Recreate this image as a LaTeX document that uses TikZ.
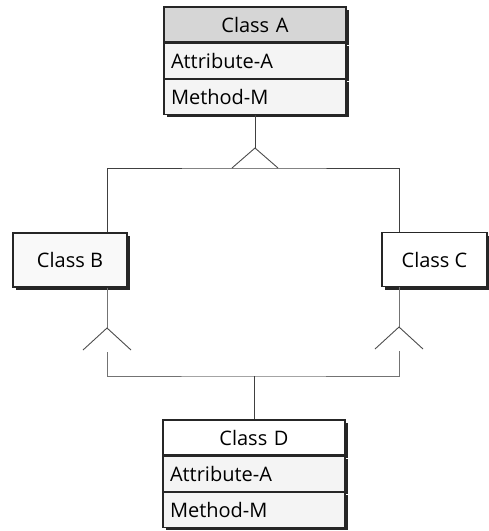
\documentclass[tikz,border=0pt]{standalone}
\usepackage{fontspec}
\setmainfont{Open Sans}
\usetikzlibrary{arrows.meta,positioning,shadows}

\begin{document}
\begin{tikzpicture}[
  x=1pt, y=1pt,
  node distance=0pt,
  every node/.style={font=\fontsize{20}{24}\selectfont},
  boxshadow/.style={drop shadow={shadow xshift=3pt, shadow yshift=-3pt,
    fill=black!85, opacity=1}},
  umlrow/.style={draw=black!85, line width=1.2pt, fill=gray!9,
    text width=168pt, inner xsep=7pt, inner ysep=0pt, minimum height=35pt,
    align=left, boxshadow},
  umlhead/.style={umlrow, align=center},
  umlclass/.style={draw=black!85, line width=1.2pt, fill=white,
    align=center, minimum height=54pt, boxshadow},
  conn/.style={draw=black!75, line width=0.9pt},
  faint/.style={draw=black!55, line width=0.9pt},
  chevron/.style={draw=black!70, line width=0.9pt, line join=miter}
]
\useasboundingbox (0,0) rectangle (489,-531);

% class A
\node[umlhead, fill=gray!32] (ahead) at (255,-24.5) {Class A};
\node[umlrow, below=of ahead] (aattr) {Attribute-A};
\node[umlrow, below=of aattr] (ameth) {Method-M};

% classes B and C
\node[umlclass, minimum width=114pt, fill=gray!5] (b) at (70,-260) {Class B};
\node[umlclass, minimum width=105pt] (c) at (434.5,-259.5) {Class C};

% class D
\node[umlhead, fill=white] (dhead) at (254,-437.5) {Class D};
\node[umlrow, below=of dhead] (dattr) {Attribute-A};
\node[umlrow, below=of dattr] (dmeth) {Method-M};

\coordinate (aapex) at (255,-148);
\coordinate (ajoin) at (255,-168);
\coordinate (bapex) at (107,-328);
\coordinate (bbase) at (107,-350);
\coordinate (capex) at (399,-327);
\coordinate (cbase) at (399,-349);
\coordinate (djoin) at (dhead.north |- 0,-376);

\draw[conn] (ameth.south) -- (aapex);
\draw[conn] (b.north -| bapex) |- (ajoin) -| (c.north -| capex);
\draw[chevron] ([xshift=-23pt]ajoin) -- (aapex) -- ([xshift=23pt]ajoin);

\draw[faint] (b.south -| bapex) -- (bapex);
\draw[faint] (c.south -| capex) -- (capex);
\draw[chevron] ([xshift=-24pt]bbase) -- (bapex) -- ([xshift=24pt]bbase);
\draw[chevron] ([xshift=-24pt]cbase) -- (capex) -- ([xshift=24pt]cbase);
\draw[faint] ([yshift=-2pt]bbase) |- (djoin) -| ([yshift=-2pt]cbase);
\draw[conn] (djoin) -- (dhead.north);
\end{tikzpicture}
\end{document}
